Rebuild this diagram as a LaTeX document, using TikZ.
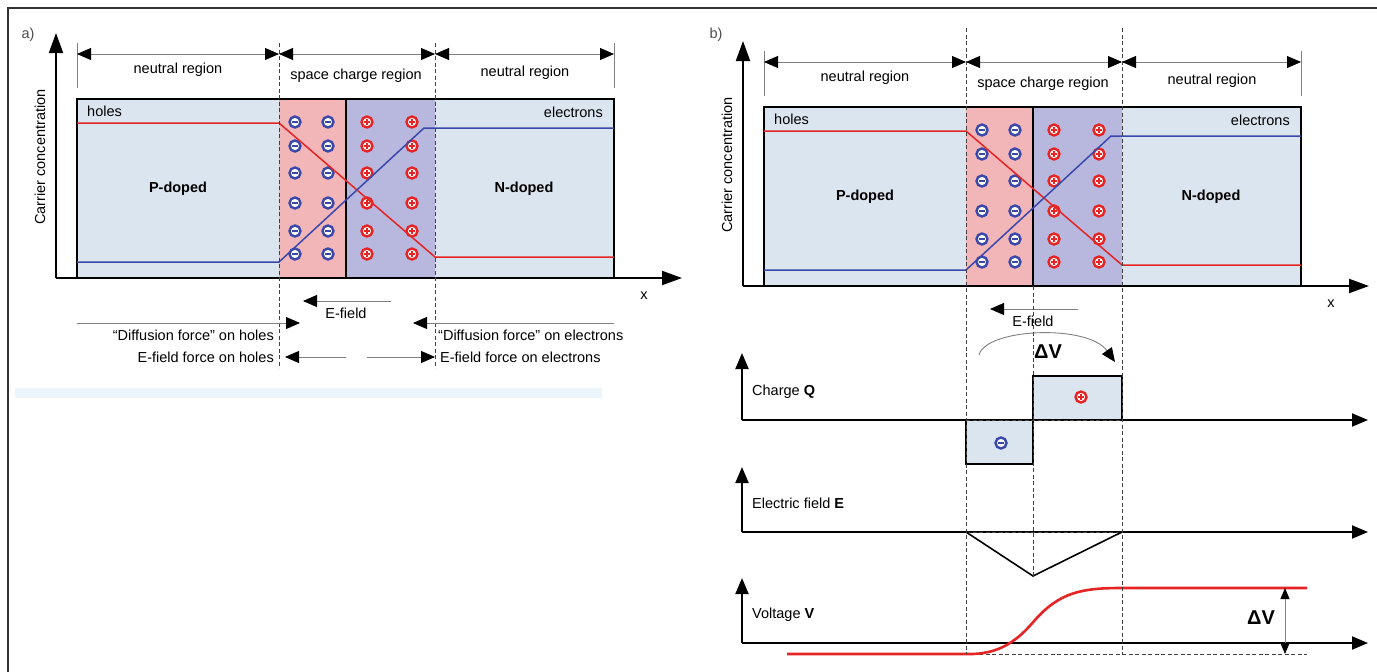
\documentclass[tikz,border=0pt]{standalone}
\usepackage{fontspec}
\setmainfont{Liberation Sans}
\usepackage{tikz}
\usetikzlibrary{arrows.meta}
\definecolor{pnbody}{RGB}{219,229,239}
\definecolor{pnpink}{RGB}{242,182,184}
\definecolor{pnlilac}{RGB}{184,184,222}
\definecolor{pnred}{RGB}{230,36,36}
\definecolor{pnblue}{RGB}{58,72,172}
\definecolor{pngray}{RGB}{128,128,128}
\definecolor{pnband}{RGB}{236,245,252}
\tikzset{
  axisline/.style={line width=2pt, draw=black, -{Triangle[length=20pt,width=14pt]}},
  smallaxis/.style={line width=1.9pt, draw=black, -{Triangle[length=16pt,width=13pt]}},
  dimarrow/.style={draw=pngray, line width=0.9pt, {Triangle[length=14pt,width=12pt,color=black]}-{Triangle[length=14pt,width=12pt,color=black]}},
  forcearrow/.style={draw=pngray, line width=0.9pt, -{Triangle[length=14pt,width=12pt,color=black]}},
  tickline/.style={draw=pngray, line width=0.9pt},
  guide/.style={draw=black!75, line width=0.6pt, dash pattern=on 4pt off 2.5pt},
  txt/.style={font=\fontsize{14.5}{17}\selectfont, inner sep=0pt},
  boldtxt/.style={font=\fontsize{14.5}{17}\selectfont\bfseries, inner sep=0pt},
  bigtxt/.style={font=\fontsize{20}{24}\selectfont\bfseries, inner sep=0pt},
  holeline/.style={draw=pnred, line width=1.5pt},
  elecline/.style={draw=pnblue, line width=1.5pt},
  negion/.style={circle, draw=pnblue, line width=2.4pt, fill=white, minimum size=11pt, inner sep=0pt,
    path picture={\draw[pnblue, line width=1.3pt] ([xshift=-3pt]path picture bounding box.center) -- ([xshift=3pt]path picture bounding box.center);}},
  posion/.style={circle, draw=pnred, line width=2.4pt, fill=white, minimum size=11pt, inner sep=0pt,
    path picture={\draw[pnred, line width=1.3pt] ([xshift=-3pt]path picture bounding box.center) -- ([xshift=3pt]path picture bounding box.center)
      ([yshift=-3pt]path picture bounding box.center) -- ([yshift=3pt]path picture bounding box.center);}}
}

% carrier plot of the junction, drawn in panel a coordinates
\newcommand{\pnjunction}{%
  \fill[pnbody] (77,99) rectangle (614,278);
  \fill[pnpink] (279,99) rectangle (346,278);
  \fill[pnlilac] (346,99) rectangle (435,278);
  \draw[line width=1.4pt] (346,99) -- (346,278);
  \draw[line width=2pt] (77,99) rectangle (614,278);
  \foreach \y in {122,146,173,203,231,254} {
    \node[negion] (nl-\y) at (295,\y) {};
    \node[negion] (nr-\y) at (328,\y) {};
    \node[posion] (pl-\y) at (367,\y) {};
    \node[posion] (pr-\y) at (412,\y) {};
  }
  \draw[holeline] (77,123) -- (279,123) -- (435,257) -- (614,257);
  \draw[elecline] (77,262) -- (279,262) -- (424,128) -- (614,128);
  % axes
  \coordinate (origin) at (56,278);
  \coordinate (ytip) at (56,33);
  \coordinate (xtip) at (682,278);
  \draw[axisline] (origin) -- (ytip);
  \draw[axisline] (origin) -- (xtip);
  \node[txt, rotate=90] (ylab) at (40,157) {Carrier concentration};
  \node[txt] (xlab) at (644,296) {x};
  % region widths
  \coordinate (dimL) at (77,54);
  \coordinate (dimP) at (279,54);
  \coordinate (dimN) at (435,54);
  \coordinate (dimR) at (614,54);
  \draw[tickline] (77,43) -- (77,88);
  \draw[tickline] (614,43) -- (614,88);
  \draw[dimarrow] (dimL) -- (dimP);
  \draw[dimarrow] (dimP) -- (dimN);
  \draw[dimarrow] (dimN) -- (dimR);
  \node[txt] (neutp) at (178,70) {neutral region};
  \node[txt] (scr) at (356,76) {space charge region};
  \node[txt] (neutn) at (525,73) {neutral region};
  \node[txt, anchor=west] (holes) at (87,111) {holes};
  \node[txt, anchor=east] (elec) at (603,112) {electrons};
  \node[boldtxt] (pdop) at (178,189) {P-doped};
  \node[boldtxt] (ndop) at (524,189) {N-doped};
  % built-in field
  \coordinate (efs) at (391,301);
  \coordinate (efe) at (303,301);
  \draw[forcearrow] (efs) -- (efe);
  \node[txt] (eflab) at (346,313) {E-field};
}

\begin{document}
\begin{tikzpicture}[x=1pt,y=-1pt]
\useasboundingbox (0,0) rectangle (1377,672);
\draw[line width=1.6pt, black!80] (8,672) -- (8,8) -- (1377,8);
\fill[pnband] (15,388) rectangle (602,398);

% ---- a) ----
\node[txt, black!70] (tag-a) at (28,35) {a)};
\begin{scope}[name prefix=a-]
  \pnjunction
\end{scope}
\draw[guide] (279,43) -- (279,368);
\draw[guide] (435,43) -- (435,368);
\coordinate (dfh-s) at (77,323);
\coordinate (dfh-e) at (300,323);
\coordinate (dfe-s) at (614,323);
\coordinate (dfe-e) at (413,323);
\draw[forcearrow] (dfh-s) -- (dfh-e);
\draw[forcearrow] (dfe-s) -- (dfe-e);
\node[txt, anchor=east] (dfh) at (274,335) {``Diffusion force'' on holes};
\node[txt, anchor=west] (dfe) at (438,335) {``Diffusion force'' on electrons};
\coordinate (efh-s) at (346,357);
\coordinate (efh-e) at (285,357);
\coordinate (efe-s) at (367,357);
\coordinate (efe-e) at (435,357);
\draw[forcearrow] (efh-s) -- (efh-e);
\draw[forcearrow] (efe-s) -- (efe-e);
\node[txt, anchor=east] (efh) at (274,357) {E-field force on holes};
\node[txt, anchor=west] (efel) at (440,357) {E-field force on electrons};

% ---- b) ----
\node[txt, black!70] (tag-b) at (716,35) {b)};
\begin{scope}[shift={(687,8)}, name prefix=b-]
  \pnjunction
\end{scope}

% charge
\coordinate (q0) at (742,420);
\draw[smallaxis] (q0) -- (742,353);
\draw[smallaxis] (q0) -- (1368,420);
\node[txt, anchor=west] (qlab) at (752,392) {Charge \textbf{Q}};
\draw[fill=pnbody, line width=1.3pt] (966,420) rectangle (1033,464);
\draw[fill=pnbody, line width=1.3pt] (1033,376) rectangle (1122,420);
\draw[guide] (966,420) -- (1122,420);
\node[negion] (qneg) at (1001,443) {};
\node[posion] (qpos) at (1081,397) {};
\coordinate (dv-s) at (979,355);
\coordinate (dv-e) at (1115,362);
\draw[forcearrow] (dv-s) .. controls (986,328) and (1088,324) .. (dv-e);
\node[bigtxt] (dvtop) at (1048,352) {ΔV};

% field
\coordinate (e0) at (742,532);
\draw[smallaxis] (e0) -- (742,467);
\draw[smallaxis] (e0) -- (1368,532);
\node[txt, anchor=west] (elab) at (752,503) {Electric field \textbf{E}};
\draw[guide] (966,532) -- (1122,532);
\draw[line width=1.6pt] (966,532) -- (1033,576) -- (1122,532);

% voltage
\coordinate (v0) at (742,643);
\draw[smallaxis] (v0) -- (742,578);
\draw[smallaxis] (v0) -- (1368,643);
\node[txt, anchor=west] (vlab) at (752,615) {Voltage \textbf{V}};
\draw[guide] (966,654) -- (1307,654);
\draw[draw=pnred, line width=2.6pt] (787,654) -- (966,654)
  .. controls (1000,655) and (1018,640) .. (1035,620)
  .. controls (1060,592) and (1082,588) .. (1122,588) -- (1307,588);
\coordinate (dvr-t) at (1285,588);
\coordinate (dvr-b) at (1285,654);
\draw[draw=pngray, line width=0.9pt, {Triangle[length=11pt,width=9pt,color=black]}-{Triangle[length=11pt,width=9pt,color=black]}] (dvr-t) -- (dvr-b);
\node[bigtxt] (dvside) at (1261,618) {ΔV};

% guides of panel b
\draw[guide] (966,28) -- (966,654);
\draw[guide] (1122,28) -- (1122,654);
\draw[guide] (1033,286) -- (1033,576);
\end{tikzpicture}
\end{document}
